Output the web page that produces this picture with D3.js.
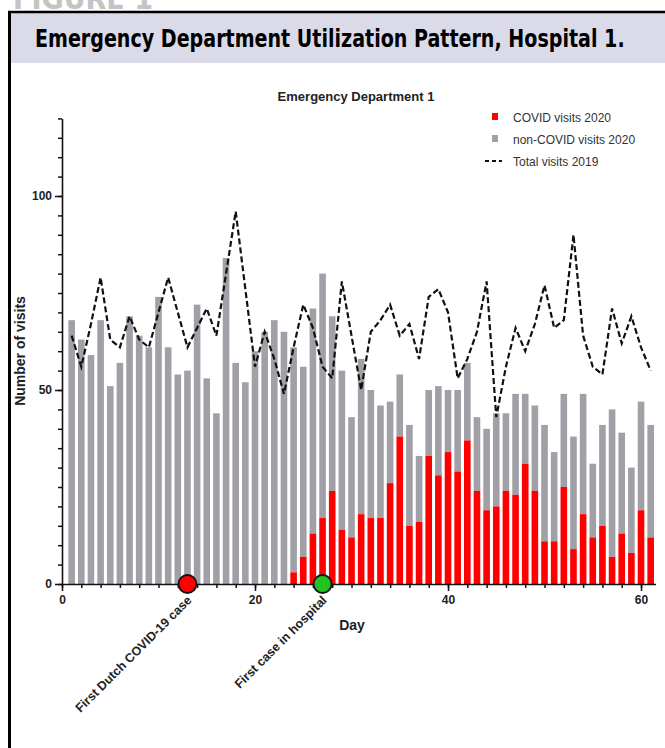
<!DOCTYPE html>
<html><head><meta charset="utf-8">
<script src="https://cdn.jsdelivr.net/npm/d3@7"></script>
<style>body{margin:0;background:#fff} svg{display:block}</style>
</head><body><svg id="c" width="665" height="748"></svg>
<script>
// ---- data ----
const days = d3.range(1, 62);
const totalVisits2020 = [68,63,59,68,51,57,69,64,61,74, 61,54,55,72,53,44,84,57,52,60, 65,68,65,61,56,71,80,69,55,43, 58,50,46,47,54,41,33,50,51,50, 50,57,43,40,44,44,49,49,46,41, 34,49,38,49,31,41,45,39,30,47, 41];
const covidVisits2020 = [0,0,0,0,0,0,0,0,0,0, 0,0,0,0,0,0,0,0,0,0, 0,0,0,3,7,13,17,24,14,12, 18,17,17,26,38,15,16,33,28,34, 29,37,24,19,20,24,23,31,24,11, 11,25,9,18,12,15,7,13,8,19, 12];
const totalVisits2019 = [64,56,67,79,63,61,69,63,61,70, 79,70,61,66,71,64,80,96,76,56, 65,58,49,61,72,66,56,53,78,64, 50,65,68,72,64,67,58,74,76,70, 53,58,65,78,43,56,66,60,67,77, 66,68,90,64,56,54,71,62,69,61, 55];
const xTickLabels = [0, 20, 40, 60];
const yTickLabels = [0, 50, 100];
const legendLabels = ["COVID visits 2020", "non-COVID visits 2020", "Total visits 2019"];
const eventDays = [13, 27];
const eventLabels = ["First Dutch COVID-19 case", "First case in hospital"];
const eventColors = ["#ff0000", "#22c322"];

const rows = days.map((d, i) => ({day: d, total: totalVisits2020[i], covid: covidVisits2020[i], prev: totalVisits2019[i]}));

const svg = d3.select("#c");
const FONT = "'Liberation Sans', Arial, Helvetica, sans-serif";
const NARROW = "'Liberation Sans Narrow','DejaVu Sans Condensed', sans-serif";

// ---- figure frame ----
svg.append("text").attr("x", 13).attr("y", 9).text("FIGURE 1")
  .attr("font-family", NARROW).attr("font-weight", "bold").attr("font-size", 30).attr("fill", "#c4c4c4");
svg.append("rect").attr("x", 9).attr("y", 12).attr("width", 656).attr("height", 51).attr("fill", "#dbdae8");
svg.append("line").attr("x1", 8).attr("x2", 665).attr("y1", 12).attr("y2", 12).attr("stroke", "#000").attr("stroke-width", 2.5);
svg.append("line").attr("x1", 9.5).attr("x2", 9.5).attr("y1", 11).attr("y2", 748).attr("stroke", "#000").attr("stroke-width", 3);
const title = svg.append("text").attr("x", 0).attr("y", 0)
  .text("Emergency Department Utilization Pattern, Hospital 1.")
  .attr("font-family", NARROW).attr("font-weight", "bold").attr("font-size", 25).attr("fill", "#000");
const tw = title.node().getComputedTextLength();
title.attr("transform", `translate(35,47) scale(${590 / tw},1)`);

// ---- scales ----
const x = d3.scaleLinear().domain([0, 61.5]).range([62, 655.5]);
const y = d3.scaleLinear().domain([0, 120]).range([584, 118.4]);
const bw = 6.6;

// ---- bars ----
const g = svg.append("g");
g.selectAll("rect.non").data(rows).join("rect").attr("class", "non")
  .attr("x", d => x(d.day) - bw / 2).attr("width", bw)
  .attr("y", d => y(d.total)).attr("height", d => y(d.covid) - y(d.total))
  .attr("fill", "#a0a0a6");
g.selectAll("rect.cov").data(rows.filter(d => d.covid > 0)).join("rect").attr("class", "cov")
  .attr("x", d => x(d.day) - bw / 2).attr("width", bw)
  .attr("y", d => y(d.covid)).attr("height", d => y(0) - y(d.covid))
  .attr("fill", "#ff0000");

// ---- 2019 line ----
svg.append("path").datum(rows)
  .attr("d", d3.line().x(d => x(d.day)).y(d => y(d.prev)))
  .attr("fill", "none").attr("stroke", "#111").attr("stroke-width", 2.2)
  .attr("stroke-dasharray", "6,3");

// ---- axes ----
function styleAxis(sel) {
  sel.selectAll("path.domain").attr("stroke", "#111").attr("stroke-width", 1.6);
  sel.selectAll(".tick line").attr("stroke", "#111").attr("stroke-width", 1.5);
  sel.selectAll("text").attr("font-family", FONT).attr("font-weight", "bold").attr("font-size", 12).attr("fill", "#222");
}
svg.append("g").attr("transform", "translate(62,0)")
  .call(d3.axisLeft(y).tickValues(d3.range(0, 121, 5)).tickSize(4).tickSizeOuter(0).tickFormat(""))
  .call(styleAxis);
svg.append("g").attr("transform", "translate(62,0)")
  .call(d3.axisLeft(y).tickValues(yTickLabels).tickSize(7).tickSizeOuter(0).tickPadding(3))
  .call(styleAxis).call(s => s.select("path.domain").remove());
svg.append("g").attr("transform", "translate(0,584)")
  .call(d3.axisBottom(x).tickValues(d3.range(0, 62, 2)).tickSize(4).tickSizeOuter(0).tickFormat(""))
  .call(styleAxis);
svg.append("g").attr("transform", "translate(0,584)")
  .call(d3.axisBottom(x).tickValues(xTickLabels).tickSize(7).tickSizeOuter(0).tickPadding(4))
  .call(styleAxis).call(s => s.select("path.domain").remove());

// axis titles
svg.append("text").attr("transform", "translate(25,351) rotate(-90)").attr("text-anchor", "middle")
  .text("Number of visits").attr("font-family", FONT).attr("font-weight", "bold").attr("font-size", 14).attr("fill", "#222");
svg.append("text").attr("x", 352).attr("y", 630).attr("text-anchor", "middle")
  .text("Day").attr("font-family", FONT).attr("font-weight", "bold").attr("font-size", 14).attr("fill", "#222");
svg.append("text").attr("x", 356).attr("y", 101).attr("text-anchor", "middle")
  .text("Emergency Department 1").attr("font-family", FONT).attr("font-weight", "bold").attr("font-size", 13).attr("fill", "#222");

// ---- events ----
eventDays.forEach((d, i) => {
  svg.append("circle").attr("cx", x(d)).attr("cy", y(0)).attr("r", 9)
    .attr("fill", eventColors[i]).attr("stroke", "#111").attr("stroke-width", 1.8);
  svg.append("text").attr("transform", `translate(${x(d) + 5},${y(0) + 17}) rotate(-45)`)
    .attr("text-anchor", "end").text(eventLabels[i])
    .attr("font-family", FONT).attr("font-weight", "bold").attr("font-size", 12.5).attr("fill", "#222");
});

// ---- legend ----
const lg = svg.append("g");
const ly = [117, 139, 161];
lg.append("rect").attr("x", 492).attr("y", ly[0] - 4).attr("width", 6).attr("height", 7).attr("fill", "#ff0000");
lg.append("rect").attr("x", 492).attr("y", ly[1] - 4).attr("width", 6).attr("height", 7).attr("fill", "#a0a0a6");
lg.append("line").attr("x1", 485).attr("x2", 502).attr("y1", ly[2]).attr("y2", ly[2])
  .attr("stroke", "#111").attr("stroke-width", 1.8).attr("stroke-dasharray", "4,3");
legendLabels.forEach((t, i) => {
  lg.append("text").attr("x", 513).attr("y", ly[i] + 4.5).text(t)
    .attr("font-family", FONT).attr("font-size", 12).attr("fill", "#333");
});
</script></body></html>
